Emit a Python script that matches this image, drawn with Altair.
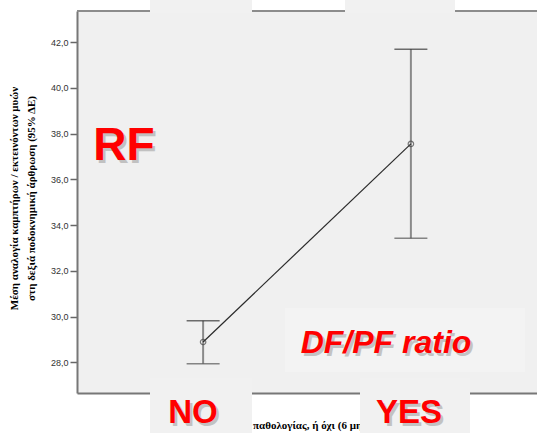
import altair as alt
import pandas as pd

# ---- data ----
groups = ["NO", "YES"]
means = [28.89, 37.55]
ci_low = [27.94, 33.42]
ci_high = [29.82, 41.69]
y_ticks = [28, 30, 32, 34, 36, 38, 40, 42]
y_title = ["Μέση αναλογία καμπτήρων / εκτεινόντων μυών",
           "στη δεξιά ποδοκνημική άρθρωση  (95% ΔΕ)"]
x_title = "παθολογίας, ή όχι (6 μηνών)"

df = pd.DataFrame({"group": groups, "mean": means, "lo": ci_low, "hi": ci_high})
one = alt.Data(values=[{"k": 0}])

SANS = "Liberation Sans, Arial, sans-serif"
SERIF = "Liberation Serif, DejaVu Serif, serif"
RED = "#ff0000"

W, H = 460, 382

xenc = alt.X("group:N",
             scale=alt.Scale(type="point", domain=groups, padding=0.607),
             axis=alt.Axis(labels=False, ticks=False, title=None,
                           domainColor="#777777", domainWidth=2, zindex=0))
yscale = alt.Scale(domain=[26.66, 43.36], nice=False, zero=False)

base = alt.Chart(df)

err = base.mark_rule(color="#8a8a8a", strokeWidth=2).encode(
    x=xenc,
    y=alt.Y("lo:Q", scale=yscale,
            axis=alt.Axis(values=y_ticks,
                          labelExpr="replace(format(datum.value, '.1f'), '.', ',')",
                          labelFont="Liberation Sans", labelFontSize=9,
                          labelColor="#333333", labelPadding=2,
                          tickSize=7, tickColor="#666666", tickWidth=1.5,
                          domainColor="#777777", domainWidth=2, grid=False,
                          title=y_title, titleFont=SERIF, titleFontSize=11,
                          titleFontWeight="bold", titleColor="#000000",
                          titleLineHeight=17, titleAngle=270,
                          titleBaseline="top", titleAlign="center",
                          titleX=-69, titleY=187, zindex=0)),
    y2="hi:Q",
)

cap_lo = base.mark_tick(color="#555555", size=33, thickness=1.5,
                        orient="horizontal").encode(
    x="group:N", y=alt.Y("lo:Q", scale=yscale))
cap_hi = base.mark_tick(color="#333333", size=33, thickness=1.5,
                        orient="horizontal").encode(
    x="group:N", y=alt.Y("hi:Q", scale=yscale))

line = base.mark_line(color="#2a2a2a", strokeWidth=1.2).encode(
    x="group:N", y=alt.Y("mean:Q", scale=yscale))
pts = base.mark_point(shape="circle", size=30, filled=False,
                      color="#444444", strokeWidth=1.2).encode(
    x="group:N", y=alt.Y("mean:Q", scale=yscale))

# frame top line
top_line = alt.Chart(one).mark_rule(color="#8c8c8c", strokeWidth=2).encode(
    x=alt.value(0), x2=alt.value(W), y=alt.value(0))

# partially hidden x-axis title
xtitle = alt.Chart(one).mark_text(font=SERIF, fontSize=11, fontWeight="bold",
                                  align="left", baseline="alphabetic",
                                  color="#000000").encode(
    x=alt.value(176), y=alt.value(418), text=alt.value(x_title))

def box(x0, x1, y0, y1, col="#f1f1f1"):
    return alt.Chart(one).mark_rect(color=col).encode(
        x=alt.value(x0), x2=alt.value(x1), y=alt.value(y0), y2=alt.value(y1))

boxes = [
    box(73, 175, -11, 1.5),
    box(268, 378, -11, 2),
    box(73, 175, 367, 422),
    box(283, 393, 367, 422),
    box(208, 448, 297, 361, "#f3f3f3"),
]

def label(txt, x, y, size, italic=False):
    kw = dict(font=SANS, fontSize=size, fontWeight="bold",
              align="center", baseline="alphabetic")
    if italic:
        kw["fontStyle"] = "italic"
    shadow = alt.Chart(one).mark_text(color="#8a8a8a", opacity=0.45,
                                      dx=2.5, dy=2.5, **kw).encode(
        x=alt.value(x), y=alt.value(y), text=alt.value(txt))
    front = alt.Chart(one).mark_text(color=RED, **kw).encode(
        x=alt.value(x), y=alt.value(y), text=alt.value(txt))
    return [shadow, front]

labels = (label("RF", 47, 149, 46)
          + label(groups[0], 116, 412, 33)
          + label(groups[1], 332, 412, 33)
          + label("DF/PF ratio", 309, 342, 32, italic=True))

chart = alt.layer(
    err, line, cap_lo, cap_hi, pts, top_line, xtitle, *boxes, *labels
).properties(
    width=W, height=H,
    autosize=alt.AutoSizeParams(type="none"),
    padding={"left": 77, "top": 11, "right": 0, "bottom": 40},
    background="#ffffff",
).configure_view(fill="#f0f0f0", stroke="transparent")

chart.save("out.html", embed_options={"renderer": "svg", "actions": False})
